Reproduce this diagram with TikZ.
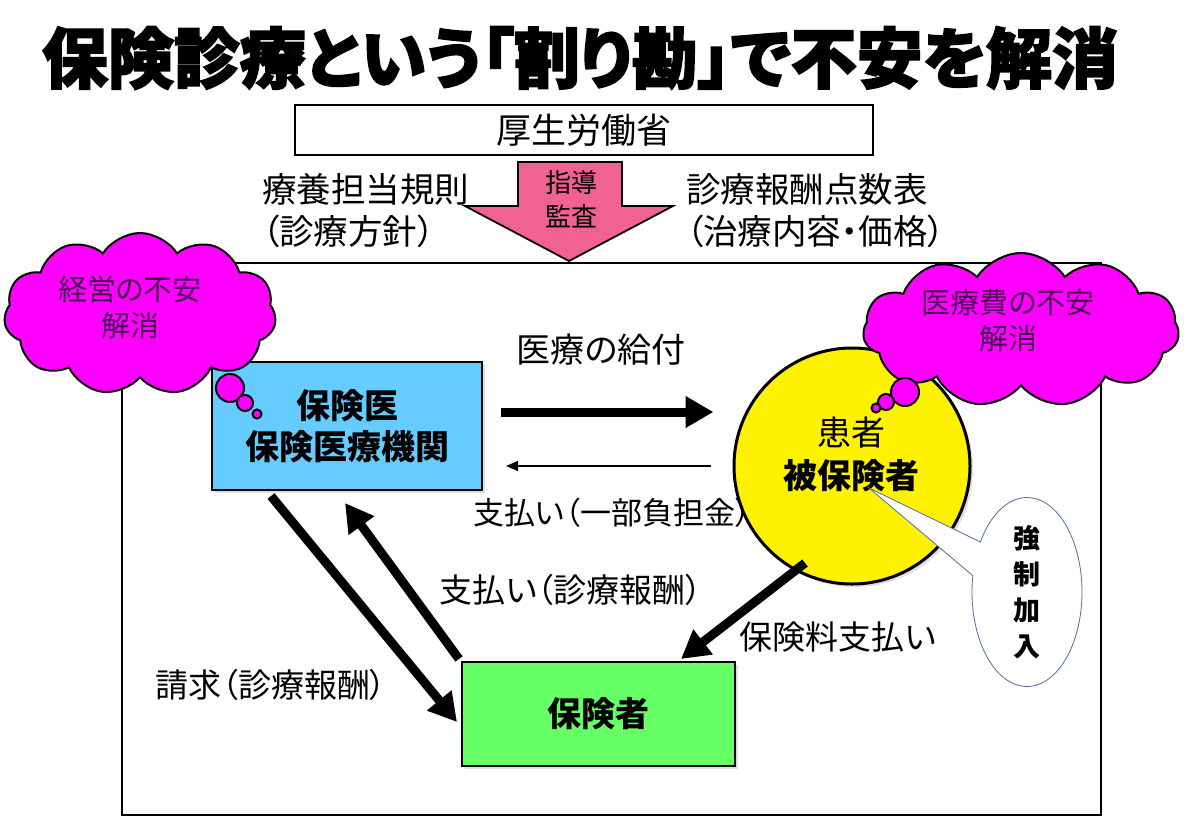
\documentclass[tikz,border=0pt]{standalone}
\usepackage{fontspec}
\setmainfont{Noto Sans CJK JP}[RawFeature=+palt]
\newfontfamily\titlefont{Noto Sans CJK JP}[RawFeature=+palt, BoldFeatures={FakeBold=2.5}]
\usetikzlibrary{shapes.symbols,shapes.callouts,shapes.geometric,arrows.meta,shadows,calc}
\definecolor{pinkarrow}{RGB}{240,98,146}
\definecolor{skyblue}{RGB}{102,204,255}
\definecolor{lightgreen}{RGB}{102,255,102}
\definecolor{cloudmag}{RGB}{255,0,255}
\definecolor{cloudtext}{RGB}{70,10,80}
\definecolor{callblue}{RGB}{80,110,160}
\begin{document}
\begin{tikzpicture}[x=1pt,y=-1pt,
  lbl/.style={font=\fontsize{33}{42}\selectfont, inner sep=0pt},
  boxbold/.style={font=\bfseries\fontsize{34}{41}\selectfont, align=center},
  shad/.style={drop shadow={opacity=0.25, shadow xshift=3pt, shadow yshift=-3pt}},
  bigarrow/.style={line width=9pt, -{Triangle[length=28pt,width=30pt]}},
  thinarrow/.style={line width=1.4pt, -{Triangle[length=12pt,width=10pt]}},
  cloudbox/.style={cloud, cloud puffs=11, cloud puff arc=115, aspect=1.8, draw, line width=2pt,
     fill=cloudmag, inner sep=0pt},
  cloudlbl/.style={text=cloudtext, font=\fontsize{29}{36}\selectfont, align=center, inner sep=0pt},
  bubble/.style={draw, line width=2pt, fill=cloudmag}]
\useasboundingbox (0,0) rectangle (1200,831);
\fill[white] (0,0) rectangle (1200,831);

% title
\node[font=\titlefont\bfseries\fontsize{66}{74}\selectfont, inner sep=0pt] (title) at (580,58) {保険診療という「割り勘」で不安を解消};

% ministry
\node[draw, line width=2pt, minimum width=578, minimum height=50, inner sep=0pt,
      font=\fontsize{35}{40}\selectfont] (mhlw) at (584,130) {厚生労働省};

% main frame
\node[draw, line width=2.2pt, minimum width=979, minimum height=552, inner sep=0pt] (frame) at (611.5,539) {};

% pink arrow
\draw[fill=pinkarrow, line width=1.8pt, line join=miter]
  (518,162) -- (622,162) -- (622,206) -- (673,206) -- (569,261) -- (465,206) -- (518,206) -- cycle;
\node[font=\fontsize{26}{34}\selectfont, align=center, inner sep=0pt] (shido) at (571,199) {指導\\監査};

% side texts
\node[font=\fontsize{34.5}{42}\selectfont, inner sep=0pt, anchor=west, align=left] (ryoyo) at (262,211) {療養担当規則\\（診療方針）};
\node[font=\fontsize{34.5}{42}\selectfont, inner sep=0pt, anchor=west, align=left] (tensu) at (686,211) {診療報酬点数表\\（治療内容・価格）};

% boxes
\node[draw, line width=2pt, fill=skyblue, minimum width=270, minimum height=128, shad, boxbold] (hoken) at (347,426) {保険医\\保険医療機関};
\node[draw, line width=2pt, fill=lightgreen, minimum width=273, minimum height=104, shad, boxbold] (hokensha) at (598.5,714) {保険者};
\node[circle, draw, line width=3pt, fill=yellow, minimum size=236, inner sep=0pt, shad] (kanja) at (852,466) {};
\node[font=\fontsize{34}{38}\selectfont, inner sep=0pt] (kanjatxt) at (851,433) {患者};
\node[font=\bfseries\fontsize{34}{38}\selectfont, inner sep=0pt] (hihoken) at (851,476) {被保険者};

% clouds
\node[cloudbox, minimum width=272, minimum height=162] (cloudL) at (140,314) {};
\node[cloudlbl] (cloudLtxt) at (130,307) {経営の不安\\解消};
\node[cloudbox, minimum width=316, minimum height=154] (cloudR) at (1021,330) {};
\node[cloudlbl] (cloudRtxt) at (1008,320) {医療費の不安\\解消};
\node[bubble, circle, minimum size=28, inner sep=0pt] (bl1) at (230,388) {};
\node[bubble, circle, minimum size=16, inner sep=0pt] (bl2) at (245,403) {};
\node[bubble, circle, minimum size=9, inner sep=0pt] (bl3) at (257,414) {};
\node[bubble, circle, minimum size=28, inner sep=0pt] (br1) at (905,392) {};
\node[bubble, circle, minimum size=16, inner sep=0pt] (br2) at (886,402) {};
\node[bubble, circle, minimum size=9, inner sep=0pt] (br3) at (876,408) {};

% callout
\coordinate (ptr) at (869,488);
\node[ellipse callout, draw=callblue, line width=0.8pt, fill=white, minimum width=110, minimum height=174,
      callout absolute pointer={(ptr)}, callout pointer arc=22, inner sep=0pt, align=center,
      font=\bfseries\fontsize{27}{36}\selectfont] (kyosei) at (1027,592) {強\\制\\加\\入};

% arrows
\draw[bigarrow] ($(hoken.east)+(18,-14)$) -- ($(kanja.west)+(-19,-54)$);
\draw[thinarrow] ($(kanja.west)+(-22,0)$) -- ($(hoken.east)+(23,40)$);
\draw[bigarrow] ($(hoken.south west)+(60,5)$) -- ($(hokensha.west)+(-4,8)$);
\draw[bigarrow] ($(hokensha.north west)+(-2,-2)$) -- ($(hoken.south)+(-2,12)$);
\draw[bigarrow] ($(kanja.center)+(-47,97)$) -- ($(hokensha.north east)+(-55,-2)$);

% labels
\node[lbl, font=\fontsize{34}{40}\selectfont] (l1) at (601,350) {医療の給付};
\node[lbl, font=\fontsize{31}{40}\selectfont] (l2) at (612,513) {支払い（一部負担金）};
\node[lbl] (l3) at (571,590) {支払い（診療報酬）};
\node[lbl] (l4) at (271,685) {請求（診療報酬）};
\node[lbl] (l5) at (838,637) {保険料支払い};
\end{tikzpicture}
\end{document}
